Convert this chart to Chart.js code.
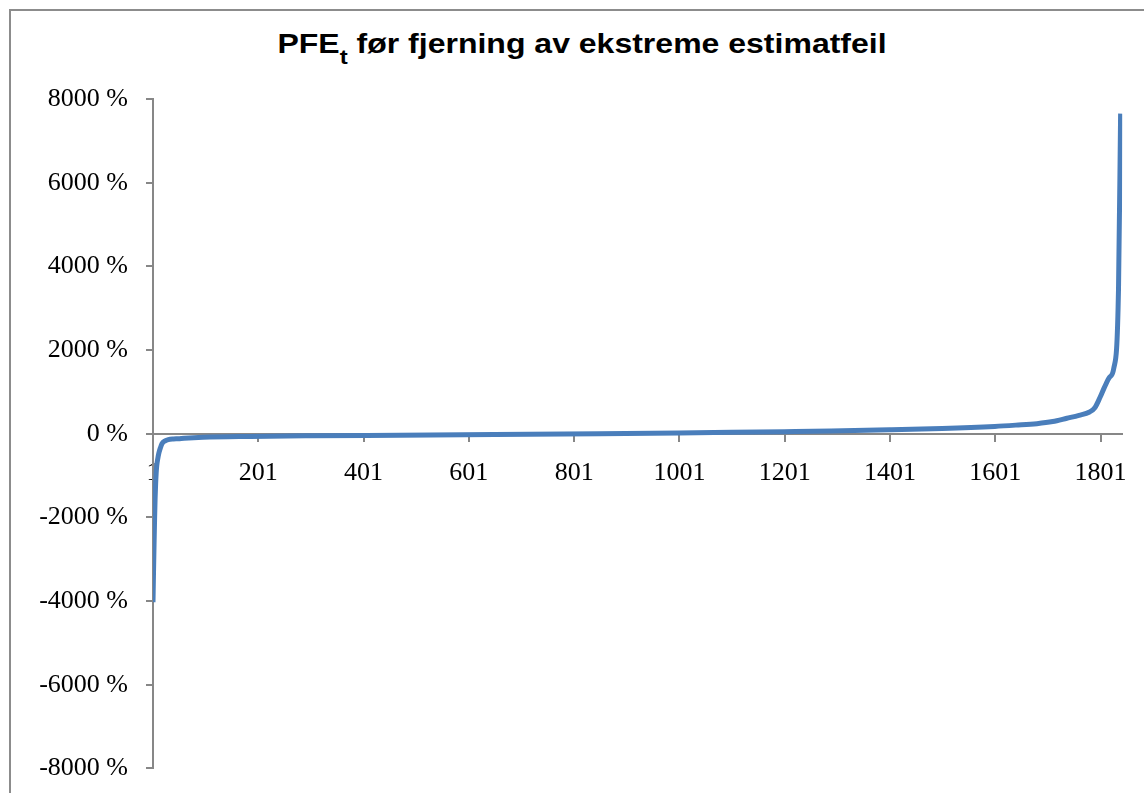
<!DOCTYPE html>
<html lang="no">
<head>
<meta charset="utf-8">
<title>PFE før fjerning av ekstreme estimatfeil</title>
<script src="https://cdn.jsdelivr.net/npm/chart.js@4/dist/chart.umd.min.js"></script>
<style>
  html, body { margin: 0; padding: 0; background: #ffffff; overflow: hidden; }
  #wrap { position: relative; width: 1144px; height: 793px; overflow: hidden; }
  #frame { position: absolute; left: 9px; top: 9px; width: 1300px; height: 900px;
           border-left: 2px solid #8c8c8c; border-top: 2px solid #8c8c8c; }
  #title { position: absolute; left: 0; top: 28px; width: 1164px; text-align: center;
           font: bold 28px "Liberation Sans", Arial, sans-serif; line-height: 32px; color: #000;
           white-space: nowrap; transform: scaleX(1.143); transform-origin: 582px 0; }
  #title sub { font-size: 21px; vertical-align: -11px; line-height: 0; }
  #chart { position: absolute; left: 0; top: 0; }
</style>
</head>
<body>
<div id="wrap">
  <div id="frame"></div>
  <div id="title">PFE<sub>t</sub> før fjerning av ekstreme estimatfeil</div>
  <canvas id="chart" width="1144" height="802"></canvas>
</div>
<script>
// Observation number (sorted order) and prediction error in percent
const obsIndex = [
  1, 2, 3, 4, 5, 6, 7, 8, 10, 12, 15, 18, 24, 30, 40, 49, 60, 96, 186, 300,
  470, 650, 848, 1000, 1100, 1200, 1289, 1400, 1500, 1600, 1640, 1680, 1710,
  1737, 1760, 1780, 1790, 1800, 1808, 1818, 1826, 1835, 1839
];
const pfeValues = [
  -4030, -3300, -2650, -2050, -1550, -1200, -950, -780, -600, -470, -340, -240,
  -170, -140, -125, -120, -108, -84, -64, -50,
  -36, -20, 0, 18, 32, 48, 64, 92, 125, 175, 205, 240, 290,
  370, 440, 520, 620, 870, 1100, 1350, 1560, 3440, 7650
];
// Axis ticks
const xTicks = [1, 201, 401, 601, 801, 1001, 1201, 1401, 1601, 1801];
const yTicks = [-8000, -6000, -4000, -2000, 0, 2000, 4000, 6000, 8000];

const axisGray = '#878787';
const tickFont = { family: '"Liberation Serif", "Times New Roman", serif', size: 26 };

const points = obsIndex.map((x, k) => ({ x: x, y: pfeValues[k] }));

new Chart(document.getElementById('chart'), {
  type: 'line',
  data: {
    datasets: [{
      data: points,
      borderColor: '#4a7ebb',
      borderWidth: 5,
      pointRadius: 0,
      fill: false,
      cubicInterpolationMode: 'monotone',
      borderJoinStyle: 'round',
      borderCapStyle: 'butt'
    }]
  },
  options: {
    responsive: false,
    animation: false,
    devicePixelRatio: 1,
    layout: { padding: { top: 99, bottom: 15, left: 0, right: 18 } },
    plugins: { legend: { display: false }, title: { display: false }, tooltip: { enabled: false } },
    scales: {
      x: {
        type: 'linear',
        position: { y: 0 },
        min: 1,
        max: 1842,
        afterFit: s => { s.height = 0; },
        afterBuildTicks: s => { s.ticks = xTicks.map(v => ({ value: v })); },
        border: { display: true, color: axisGray, width: 2 },
        grid: { drawOnChartArea: false, drawTicks: true, tickLength: 7, color: axisGray, lineWidth: 2 },
        ticks: { autoSkip: false, maxRotation: 0, padding: 17, color: '#000', font: tickFont,
                 callback: v => String(v) }
      },
      y: {
        type: 'linear',
        min: -8000,
        max: 8000,
        afterFit: s => { s.width = 153; },
        afterBuildTicks: s => { s.ticks = yTicks.map(v => ({ value: v })); },
        border: { display: true, color: axisGray, width: 2 },
        grid: { drawOnChartArea: false, drawTicks: true, tickLength: 7, color: axisGray, lineWidth: 2 },
        ticks: { padding: 18, color: '#000', font: tickFont, callback: v => v + ' %' }
      }
    }
  }
});
</script>
</body>
</html>
